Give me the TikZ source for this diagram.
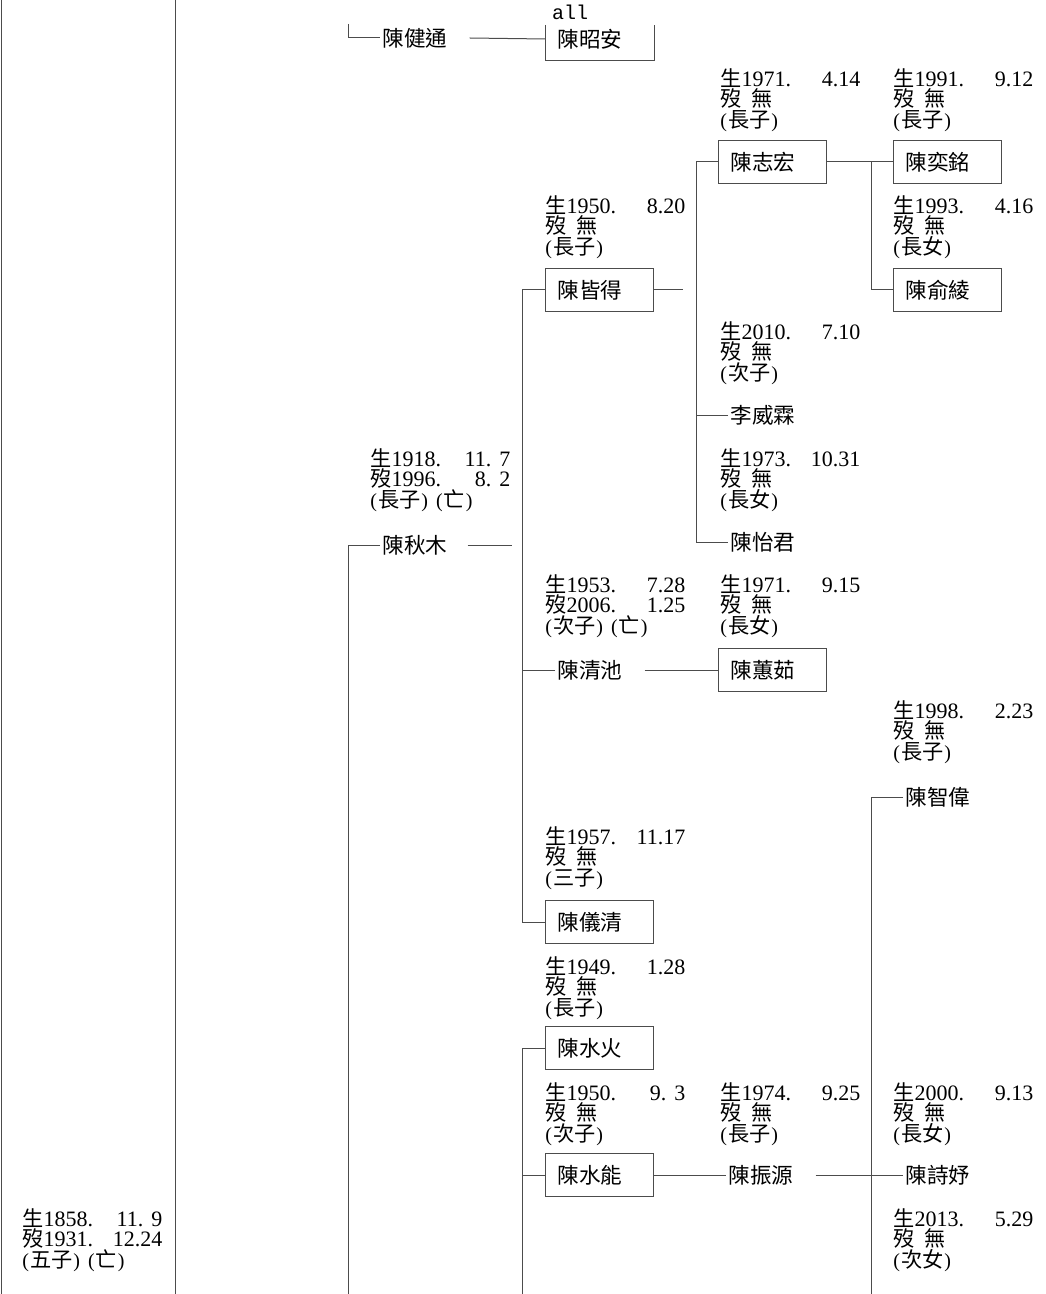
\documentclass[tikz,border=0pt]{standalone}
\usepackage{fontspec}
\setmainfont{Liberation Serif}
\newfontfamily\cjk{Noto Sans CJK TC}
\newfontfamily\monofont{Liberation Mono}
\usetikzlibrary{positioning}

\newcommand\zh[1]{{\cjk\fontsize{10.6}{10.3}\selectfont #1}}
\newcommand\sheng[2]{\hbox to 70pt{\zh{生}#1.\hfill #2}}
\newcommand\mo[2]{\hbox to 70pt{\zh{歿}#1.\hfill #2}}
\newcommand\wu{\zh{歿}\hspace{5pt}\zh{無}}
\newcommand\rel[1]{{\fontsize{10}{10.3}\selectfont(\kern0.5pt\zh{#1}\kern0.5pt)}}
\newcommand\wang{\hspace{4pt}\rel{亡}}

\begin{document}
\begin{tikzpicture}[
  x=0.5pt, y=-0.5pt,
  font=\fontsize{11}{10.3}\selectfont,
  nm/.style={anchor=west, inner xsep=1pt, inner ysep=0pt, font={\cjk\fontsize{10.8}{10.3}\selectfont}},
  box/.style={draw=black!70, line width=0.5pt, anchor=west, minimum height=21.5pt, text width=42pt,
    inner xsep=6pt, inner ysep=0pt, font={\cjk\fontsize{10.8}{10.3}\selectfont}},
  info/.style={anchor=north west, inner sep=0pt, align=left,
    font={\fontsize{11}{10.3}\selectfont\lineskiplimit=-5pt}},
  tree/.style={draw=black!70, line width=0.5pt}
]
\useasboundingbox (0,0) rectangle (1045,1294);

% grid of the tree lines
\coordinate (c0top) at (1,0);    \coordinate (c0bot) at (1,1294);
\coordinate (c1top) at (175,0);  \coordinate (c1bot) at (175,1294);
\coordinate (c2top) at (348,24); \coordinate (c2bot) at (348,1294);
\coordinate (c3a) at (522,290);  \coordinate (c3b) at (522,922);
\coordinate (c3bot) at (522,1294);
\coordinate (c4a) at (696,162);  \coordinate (c4b) at (696,542);
\coordinate (c5a) at (871,162);  \coordinate (c5bot) at (871,1294);
\coordinate (cut) at (0,25);
\coordinate (qiumu-end) at (512,545);
\coordinate (jiede-end) at (683,290);

% names
\node[font=\monofont\fontsize{10}{10}\selectfont, inner sep=0pt] (allnote) at (570,12) {all};
\node[nm] (jiantong) at (380,38) {陳健通};
\node[box, draw=none] (zhaoan) at (545,39) {陳昭安};
\node[nm] (qiumu) at (380,545) {陳秋木};
\node[box] (jiede) at (545,290) {陳皆得};
\node[nm] (qingchi) at (555,670) {陳清池};
\node[box] (yiqing) at (545,922) {陳儀清};
\node[box] (shuihuo) at (545,1048) {陳水火};
\node[box] (shuineng) at (545,1175) {陳水能};
\node[box] (zhihong) at (718,162) {陳志宏};
\node[nm] (weilin) at (728,415) {李威霖};
\node[nm] (yijun) at (728,542) {陳怡君};
\node[box] (huiru) at (718,670) {陳蕙茹};
\node[nm] (zhenyuan) at (726,1175) {陳振源};
\node[box] (yiming) at (893,162) {陳奕銘};
\node[box] (yuling) at (893,290) {陳俞綾};
\node[nm] (zhiwei) at (903,797) {陳智偉};
\node[nm] (shiyu) at (903,1175) {陳詩妤};

% dates
\node[info] (i-zhihong) at (720,68) {\sheng{1971}{4.14}\\ \wu\\ \rel{長子}};
\node[info] (i-yiming) at (893,68) {\sheng{1991}{9.12}\\ \wu\\ \rel{長子}};
\node[info] (i-jiede) at (545,195) {\sheng{1950}{8.20}\\ \wu\\ \rel{長子}};
\node[info] (i-yuling) at (893,195) {\sheng{1993}{4.16}\\ \wu\\ \rel{長女}};
\node[info] (i-weilin) at (720,321) {\sheng{2010}{7.10}\\ \wu\\ \rel{次子}};
\node[info] (i-qiumu) at (370,448) {\sheng{1918}{11.\hspace{4pt}7}\\ \mo{1996}{8.\hspace{4pt}2}\\ \rel{長子}\wang};
\node[info] (i-yijun) at (720,448) {\sheng{1973}{10.31}\\ \wu\\ \rel{長女}};
\node[info] (i-qingchi) at (545,574) {\sheng{1953}{7.28}\\ \mo{2006}{1.25}\\ \rel{次子}\wang};
\node[info] (i-huiru) at (720,574) {\sheng{1971}{9.15}\\ \wu\\ \rel{長女}};
\node[info] (i-zhiwei) at (893,700) {\sheng{1998}{2.23}\\ \wu\\ \rel{長子}};
\node[info] (i-yiqing) at (545,826) {\sheng{1957}{11.17}\\ \wu\\ \rel{三子}};
\node[info] (i-shuihuo) at (545,956) {\sheng{1949}{1.28}\\ \wu\\ \rel{長子}};
\node[info] (i-shuineng) at (545,1082) {\sheng{1950}{9.\hspace{4pt}3}\\ \wu\\ \rel{次子}};
\node[info] (i-zhenyuan) at (720,1082) {\sheng{1974}{9.25}\\ \wu\\ \rel{長子}};
\node[info] (i-shiyu) at (893,1082) {\sheng{2000}{9.13}\\ \wu\\ \rel{長女}};
\node[info] (i-second) at (893,1208) {\sheng{2013}{5.29}\\ \wu\\ \rel{次女}};
\node[info] (i-root) at (22,1208) {\sheng{1858}{11.\hspace{4pt}9}\\ \mo{1931}{12.24}\\ \rel{五子}\wang};

% lines
\draw[tree] (c0top) -- (c0bot);
\draw[tree] (c1top) -- (c1bot);
\draw[tree] (c2top) |- (jiantong.west);
\draw[tree] ([xshift=10pt]jiantong.east) -- (zhaoan.west);
\draw[tree] (zhaoan.south west |- cut) -- (zhaoan.south west) -- (zhaoan.south east) -- (zhaoan.south east |- cut);
\draw[tree] (qiumu.west) -| (c2bot);
\draw[tree] ([xshift=9pt]qiumu.east) -- (qiumu-end);
\draw[tree] (jiede.west) -- (c3a) -- (c3b) -- (yiqing.west);
\draw[tree] (jiede.east) -- (jiede-end);
\draw[tree] (qingchi.west) -- (qingchi.west -| c3a);
\draw[tree] ([xshift=10pt]qingchi.east) -- (huiru.west);
\draw[tree] (shuihuo.west) -| (c3bot);
\draw[tree] (shuineng.west) -- (shuineng.west -| c3bot);
\draw[tree] (shuineng.east) -- (zhenyuan.west);
\draw[tree] ([xshift=10pt]zhenyuan.east) -- (shiyu.west);
\draw[tree] (zhihong.west) -- (c4a) -- (c4b) -- (yijun.west);
\draw[tree] (weilin.west) -- (weilin.west -| c4a);
\draw[tree] (zhihong.east) -- (yiming.west);
\draw[tree] (c5a) |- (yuling.west);
\draw[tree] (zhiwei.west) -| (c5bot);
\end{tikzpicture}
\end{document}
